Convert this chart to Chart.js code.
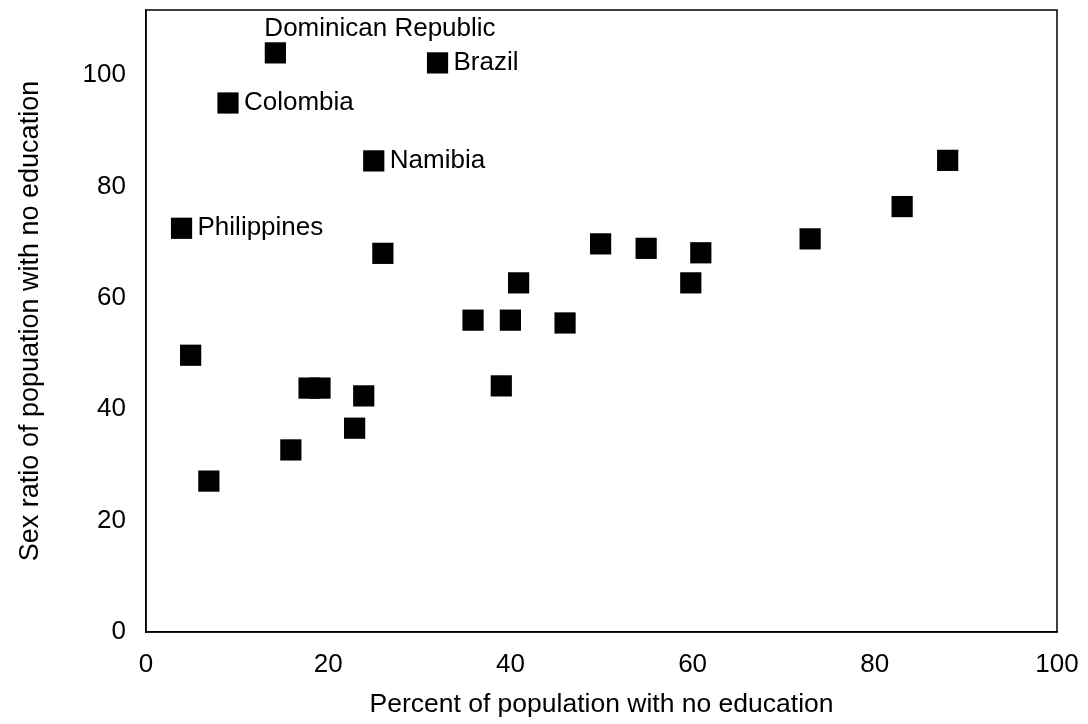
<!DOCTYPE html>
<html>
<head>
<meta charset="utf-8">
<script src="https://cdn.jsdelivr.net/npm/chart.js@4.4.1/dist/chart.umd.min.js"></script>
<style>
  html, body { margin: 0; padding: 0; background: #fff; }
  #wrap { width: 1088px; height: 724px; }
</style>
</head>
<body>
<div id="wrap"><canvas id="c" width="1088" height="724"></canvas></div>
<script>
// ---- data ----
const countries = ["Dominican Republic", "Brazil", "Colombia", "Namibia", "Philippines",
  "", "", "", "", "", "", "", "", "", "", "", "", "", "", "", "", "", "", "", ""];
const eduPercent = [14.2, 32.0, 9.0, 25.0, 3.9,
  26.0, 4.9, 6.9, 15.9, 17.9, 19.1, 23.9, 22.9, 49.9, 54.9, 60.9, 40.9, 59.8, 35.9, 40.0, 46.0, 39.0, 88.0, 83.0, 72.9];
const sexRatio = [104.0, 102.2, 95.0, 84.6, 72.5,
  68.0, 49.7, 27.1, 32.7, 43.8, 43.8, 42.4, 36.6, 69.7, 68.9, 68.1, 62.7, 62.7, 56.0, 56.0, 55.5, 44.2, 84.7, 76.4, 70.6];
const labelPlacement = ["above", "right", "right", "right", "right"];
const xTicks = [0, 20, 40, 60, 80, 100];
const yTicks = [0, 20, 40, 60, 80, 100];
const xTitle = "Percent of population with no education";
const yTitle = "Sex ratio of popuation with no education";

const FONT = "'Liberation Sans', Arial, Helvetica, sans-serif";

const points = eduPercent.map((x, i) => ({ x: x, y: sexRatio[i] }));

const framePlugin = {
  id: 'frame',
  afterDraw(chart) {
    const { ctx, chartArea: a } = chart;
    ctx.save();
    ctx.strokeStyle = '#000';
    ctx.lineWidth = 1.5;
    ctx.strokeRect(a.left, a.top, a.right - a.left, a.bottom - a.top);
    ctx.restore();
  }
};

const pointLabelPlugin = {
  id: 'pointLabels',
  afterDatasetsDraw(chart) {
    const { ctx } = chart;
    const meta = chart.getDatasetMeta(0);
    ctx.save();
    ctx.fillStyle = '#000';
    ctx.font = "26px " + FONT;
    countries.forEach((name, i) => {
      if (!name) return;
      const el = meta.data[i];
      const place = labelPlacement[i] || 'right';
      ctx.textAlign = 'left';
      ctx.textBaseline = 'middle';
      if (place === 'above') {
        ctx.fillText(name, el.x - 11, el.y - 24);
      } else {
        ctx.fillText(name, el.x + 16, el.y);
      }
    });
    ctx.restore();
  }
};

function noPad(s) { s.paddingTop = 0; s.paddingBottom = 0; s.paddingLeft = 0; s.paddingRight = 0; }

new Chart(document.getElementById('c'), {
  type: 'scatter',
  data: {
    datasets: [{
      data: points,
      pointStyle: 'rect',
      pointRadius: 15,
      pointHoverRadius: 15,
      pointBorderWidth: 0,
      backgroundColor: '#000',
      borderColor: '#000'
    }]
  },
  options: {
    responsive: false,
    animation: false,
    events: [],
    layout: { autoPadding: false, padding: { top: 10, right: 31, left: 0, bottom: 0 } },
    plugins: {
      legend: { display: false },
      tooltip: { enabled: false }
    },
    scales: {
      x: {
        type: 'linear',
        min: 0,
        max: 100,
        afterBuildTicks: s => { s.ticks = xTicks.map(v => ({ value: v })); },
        afterFit: s => { s.height = 92; noPad(s); },
        grid: { display: false, drawTicks: false },
        border: { display: true, color: '#000', width: 1.5 },
        ticks: { color: '#000', font: { family: FONT, size: 26 }, padding: 17, maxRotation: 0 },
        title: { display: true, text: xTitle, color: '#000', font: { family: FONT, size: 26.5 }, padding: { top: 0, bottom: 3 } }
      },
      y: {
        type: 'linear',
        min: 0,
        max: 111.7,
        afterBuildTicks: s => { s.ticks = yTicks.map(v => ({ value: v })); },
        afterFit: s => { s.width = 146; noPad(s); },
        grid: { display: false, drawTicks: false },
        border: { display: true, color: '#000', width: 1.5 },
        ticks: { color: '#000', font: { family: FONT, size: 26, lineHeight: 0.5 }, padding: 20 },
        title: { display: true, text: yTitle, color: '#000', font: { family: FONT, size: 27 }, padding: { top: 14, bottom: 0 } }
      }
    }
  },
  plugins: [framePlugin, pointLabelPlugin]
});
</script>
</body>
</html>
